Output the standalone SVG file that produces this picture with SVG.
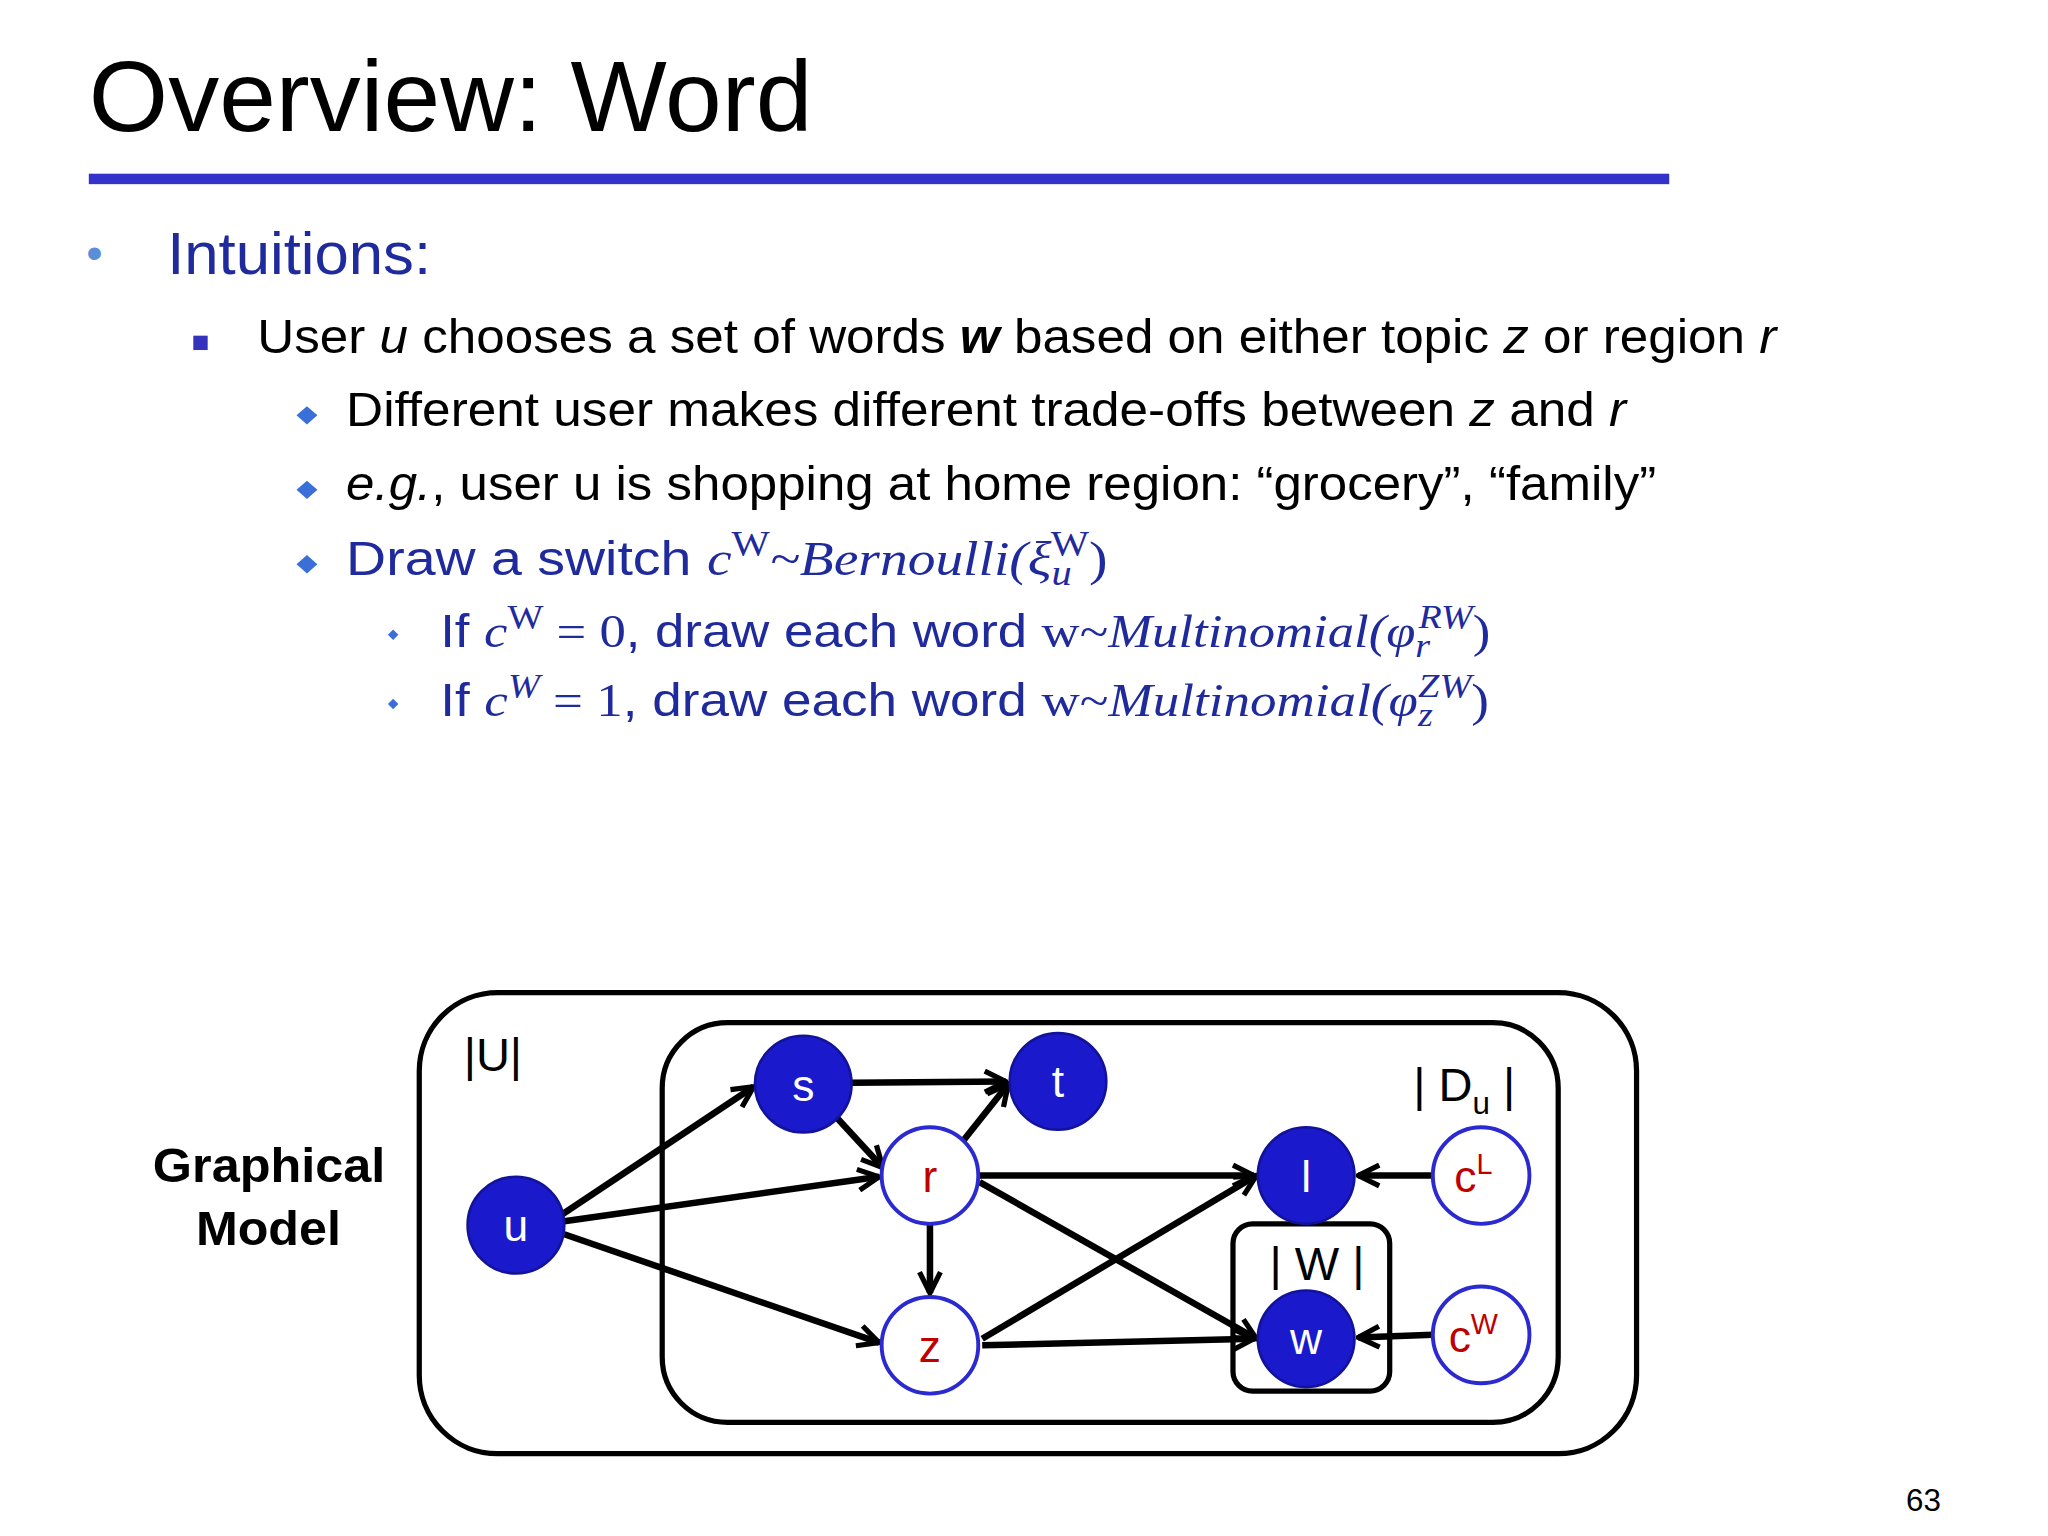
<svg xmlns="http://www.w3.org/2000/svg" width="2048" height="1536" viewBox="0 0 2048 1536">
<defs>
<marker id="ah" viewBox="0 0 10 10" refX="9" refY="5" markerWidth="4" markerHeight="4" orient="auto" markerUnits="strokeWidth">
<path d="M1,1 L9,5 L1,9" fill="none" stroke="#000" stroke-width="2"/>
</marker>
<style>
text{font-family:"Liberation Sans",Arial,sans-serif}
.m{font-family:"Liberation Serif","DejaVu Serif",serif;font-style:italic}
.mr{font-family:"Liberation Serif","DejaVu Serif",serif}
.b{fill:#1f2a9c}
.e{stroke:#000;stroke-width:5;fill:none;marker-end:url(#ah)}
.fn{fill:#1a1acc;stroke:#12129a;stroke-width:2}
.on{fill:#fff;stroke:#2a2ad0;stroke-width:3}
.lw{fill:#fff;font-size:34px;text-anchor:middle}
.lr{fill:#c00000;font-size:34px;text-anchor:middle}
.pl{fill:none;stroke:#000;stroke-width:4}
</style>
</defs>
<rect width="2048" height="1536" fill="#fff"/>
<g transform="scale(1.30612)">
<text x="68" y="100" font-size="76" textLength="554" lengthAdjust="spacingAndGlyphs">Overview: Word</text>
<rect x="68" y="133" width="1210" height="8" fill="#3333cc"/>
<text x="66" y="206" font-size="36" fill="#5b8dd9">•</text>
<text x="128" y="210" font-size="46" class="b" textLength="202" lengthAdjust="spacingAndGlyphs">Intuitions:</text>
<rect x="148" y="257" width="11" height="11" fill="#3333bb"/>
<text x="197" y="270" font-size="37" textLength="1163" lengthAdjust="spacingAndGlyphs">User <tspan font-style="italic">u</tspan> chooses a set of words <tspan font-style="italic" font-weight="bold">w</tspan> based on either topic <tspan font-style="italic">z</tspan> or region <tspan font-style="italic">r</tspan></text>
<g fill="#3a6fd8">
<path d="M235,311 l8,7 -8,7 -8,-7z"/><path d="M235,368 l8,7 -8,7 -8,-7z"/><path d="M235,425 l8,7 -8,7 -8,-7z"/>
<path d="M301,482 l4,4 -4,4 -4,-4z"/><path d="M301,535 l4,4 -4,4 -4,-4z"/>
</g>
<text x="265" y="326" font-size="37" textLength="980" lengthAdjust="spacingAndGlyphs">Different user makes different trade-offs between <tspan font-style="italic">z</tspan> and <tspan font-style="italic">r</tspan></text>
<text x="265" y="383" font-size="37" textLength="1003" lengthAdjust="spacingAndGlyphs"><tspan font-style="italic">e.g.</tspan>, user u is shopping at home region: “grocery”, “family”</text>
<text x="265" y="440" font-size="37" class="b" textLength="583" lengthAdjust="spacingAndGlyphs">Draw a switch <tspan class="m">c</tspan><tspan class="mr" dy="-14" font-size="27">W</tspan><tspan class="m" dy="14">~Bernoulli(ξ</tspan><tspan class="m" font-size="27" dy="8">u</tspan><tspan class="mr" font-size="27" dx="-14" dy="-22">W</tspan><tspan class="mr" dy="14">)</tspan></text>
<text x="337" y="495" font-size="36" class="b" textLength="804" lengthAdjust="spacingAndGlyphs">If <tspan class="m">c</tspan><tspan class="mr" dy="-14" font-size="26">W</tspan><tspan class="mr" dy="14"> = 0</tspan>, draw each word <tspan class="mr">w~</tspan><tspan class="m">Multinomial(φ</tspan><tspan class="m" font-size="26" dy="8">r</tspan><tspan class="m" font-size="26" dx="-8" dy="-22">RW</tspan><tspan class="mr" dy="14">)</tspan></text>
<text x="337" y="548" font-size="36" class="b" textLength="803" lengthAdjust="spacingAndGlyphs">If <tspan class="m">c</tspan><tspan class="m" dy="-14" font-size="26">W</tspan><tspan class="mr" dy="14"> = 1</tspan>, draw each word <tspan class="mr">w~</tspan><tspan class="m">Multinomial(φ</tspan><tspan class="m" font-size="26" dy="8">z</tspan><tspan class="m" font-size="26" dx="-10" dy="-22">ZW</tspan><tspan class="mr" dy="14">)</tspan></text>

<g id="plates">
<rect class="pl" x="321" y="760" width="932" height="353" rx="60"/>
<rect class="pl" x="507" y="783" width="686" height="306" rx="50"/>
<rect class="pl" x="944" y="937" width="120" height="128" rx="15"/>
<text x="355" y="820" font-size="36">|U|</text>
<text x="1082" y="843" font-size="36">| D<tspan font-size="24" dy="10">u</tspan><tspan dy="-10"> |</tspan></text>
<text x="972" y="980" font-size="36">| W |</text>
</g>
<text x="117" y="905" font-size="37" font-weight="bold" textLength="178" lengthAdjust="spacingAndGlyphs">Graphical</text>
<text x="150" y="953" font-size="37" font-weight="bold" textLength="111" lengthAdjust="spacingAndGlyphs">Model</text>

<g id="edges">
<line class="e" x1="430" y1="930" x2="577" y2="832"/>
<line class="e" x1="432" y1="935" x2="673" y2="901"/>
<line class="e" x1="432" y1="945" x2="673" y2="1028"/>
<line class="e" x1="652" y1="829" x2="770" y2="828"/>
<line class="e" x1="640" y1="855" x2="676" y2="894"/>
<line class="e" x1="737" y1="874" x2="772" y2="830"/>
<line class="e" x1="750" y1="900" x2="960" y2="900"/>
<line class="e" x1="750" y1="905" x2="962" y2="1025"/>
<line class="e" x1="712" y1="937" x2="712" y2="990"/>
<line class="e" x1="752" y1="1025" x2="962" y2="900"/>
<line class="e" x1="752" y1="1030" x2="960" y2="1025"/>
<line class="e" x1="1097" y1="900" x2="1040" y2="900"/>
<line class="e" x1="1097" y1="1022" x2="1040" y2="1024"/>
</g>
<g id="u"><circle class="fn" cx="395" cy="938" r="37"/><text class="lw" x="395" y="950">u</text></g>
<g id="s"><circle class="fn" cx="615" cy="830" r="37"/><text class="lw" x="615" y="843">s</text></g>
<g id="t"><circle class="fn" cx="810" cy="828" r="37"/><text class="lw" x="810" y="840">t</text></g>
<g id="r"><circle class="on" cx="712" cy="900" r="37"/><text class="lr" x="712" y="913">r</text></g>
<g id="z"><circle class="on" cx="712" cy="1030" r="37"/><text class="lr" x="712" y="1043">z</text></g>
<g id="l"><circle class="fn" cx="1000" cy="900" r="37"/><text class="lw" x="1000" y="913">l</text></g>
<g id="w"><circle class="fn" cx="1000" cy="1025" r="37"/><text class="lw" x="1000" y="1037">w</text></g>
<g id="cL"><circle class="on" cx="1134" cy="900" r="37"/><text class="lr" x="1128" y="913">c<tspan font-size="22" dy="-14">L</tspan></text></g>
<g id="cW"><circle class="on" cx="1134" cy="1022" r="37"/><text class="lr" x="1128" y="1035">c<tspan font-size="22" dy="-14">W</tspan></text></g>
<text x="1486" y="1157" font-size="24" text-anchor="end">63</text>
</g>
</svg>
